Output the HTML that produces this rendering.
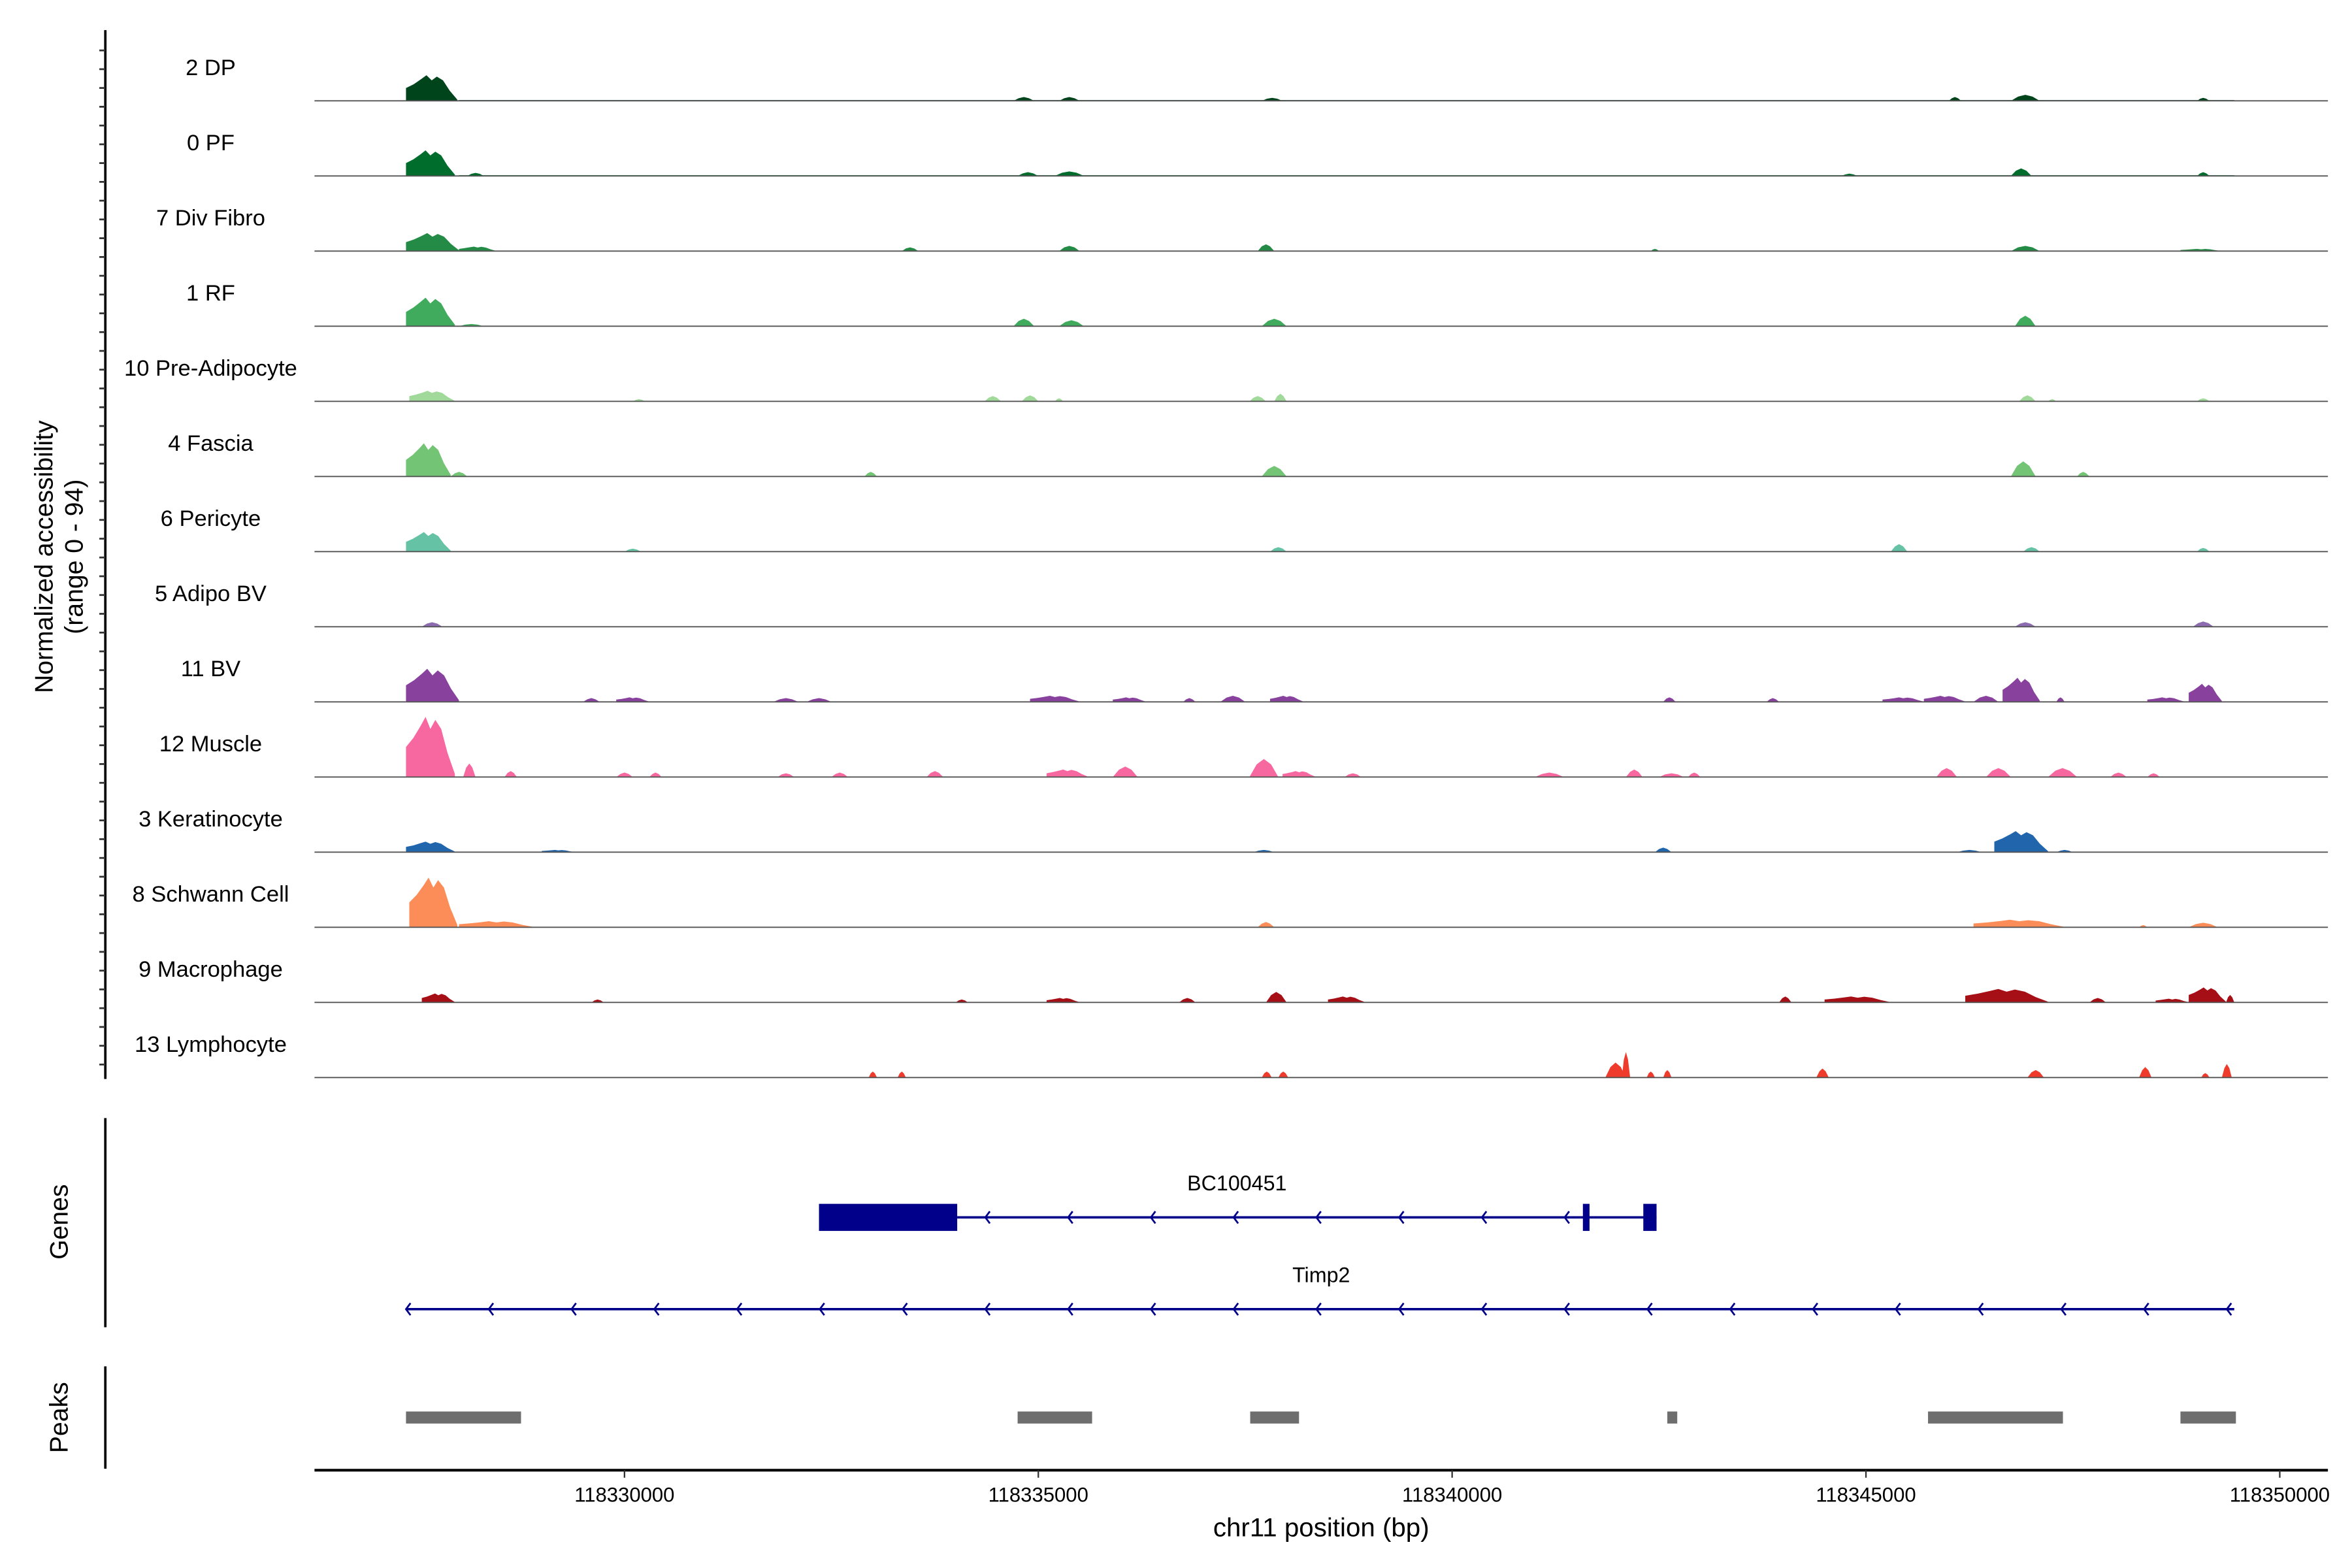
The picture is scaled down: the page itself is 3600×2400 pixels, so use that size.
<!DOCTYPE html>
<html><head><meta charset="utf-8"><style>
html,body{margin:0;padding:0;background:#fff}
svg{display:block}
text{font-family:"Liberation Sans",sans-serif;fill:#000}
</style></head><body>
<svg id="chart" width="3600" height="2400" viewBox="0 0 1563 1042" xmlns="http://www.w3.org/2000/svg">
<g id="tracks"></g>
<g id="genes"></g>
<g id="peaks"></g>
<g id="axes"></g>
</svg>
<script>
// positions in kb offset from 118320000 bp
const BASE_KB = 118320;
const trackNames = ["2 DP","0 PF","7 Div Fibro","1 RF","10 Pre-Adipocyte","4 Fascia","6 Pericyte","5 Adipo BV","11 BV","12 Muscle","3 Keratinocyte","8 Schwann Cell","9 Macrophage","13 Lymphocyte"];
const trackColors = ["#00441b","#006d2c","#238b45","#41ab5d","#a1d99b","#74c476","#66c2a4","#8c6bb1","#88419d","#f768a1","#2166ac","#fc8d59","#a50f15","#ef3b2c"];
const trackBackground = [1,1,0.6,0.6,0,0.6,0.6,0.4,0,0,0.6,0.6,0,0];
// peaks: [startKb, endKb, value (0-94)]
const peaksDP = [[7.36,7.98,34],[14.7,14.95,5],[15.25,15.5,5],[17.7,17.95,4],[26.0,26.15,5],[26.75,27.1,8],[29.0,29.15,4]];
const peaksPF = [[7.36,7.95,34],[8.1,8.3,4],[14.75,15.0,5],[15.2,15.55,6],[24.7,24.9,3],[26.75,27.0,10],[29.0,29.15,5]];
const peaksDivFibro = [[7.36,8.0,24],[8.0,8.45,6],[13.35,13.55,5],[15.25,15.5,7],[17.65,17.85,9],[22.4,22.5,3],[26.75,27.1,7],[28.8,29.3,3]];
const peaksRF = [[7.36,7.95,38],[8.0,8.3,3],[14.7,14.95,10],[15.25,15.55,8],[17.7,18.0,10],[26.8,27.05,14]];
const peaksPreAdip = [[7.4,7.95,14],[10.1,10.25,3],[14.35,14.55,7],[14.8,15.0,8],[15.2,15.3,4],[17.55,17.75,7],[17.85,18.0,10],[26.85,27.05,8],[27.2,27.3,3],[29.0,29.15,4]];
const peaksFascia = [[7.36,7.9,44],[7.9,8.1,6],[12.9,13.05,6],[17.7,18.0,14],[26.75,27.05,20],[27.55,27.7,6]];
const peaksPericyte = [[7.36,7.9,26],[10.0,10.2,4],[17.8,18.0,6],[25.3,25.5,10],[26.9,27.1,6],[29.0,29.15,5]];
const peaksAdipoBV = [[7.55,7.8,6],[26.8,27.05,6],[28.95,29.2,7]];
const peaksBV = [[7.36,8.0,44],[9.5,9.7,5],[9.9,10.3,6],[11.8,12.1,5],[12.2,12.5,5],[14.9,15.5,8],[15.9,16.3,6],[16.75,16.9,5],[17.2,17.5,8],[17.8,18.2,8],[22.55,22.7,6],[23.8,23.95,5],[25.2,25.7,6],[25.7,26.2,8],[26.3,26.6,8],[26.65,27.1,32],[27.3,27.4,6],[28.4,28.85,6],[28.9,29.3,24]];
const peaksMuscle = [[7.36,7.95,80],[8.05,8.2,18],[8.55,8.7,8],[9.9,10.1,6],[10.3,10.45,6],[11.85,12.05,5],[12.5,12.7,6],[13.65,13.85,8],[15.1,15.6,10],[15.9,16.2,14],[17.55,17.9,24],[17.95,18.35,8],[18.7,18.9,5],[21.0,21.35,6],[22.1,22.3,10],[22.5,22.8,5],[22.85,23.0,6],[25.85,26.1,12],[26.45,26.75,12],[27.2,27.55,12],[27.95,28.15,6],[28.4,28.55,5]];
const peaksKera = [[7.36,7.95,14],[9.0,9.4,3],[17.6,17.85,3],[22.45,22.65,6],[26.1,26.4,3],[26.55,27.2,28],[27.3,27.5,3]];
const peaksSchwann = [[7.4,7.98,66],[8.0,8.9,8],[17.65,17.85,7],[26.3,27.4,10],[28.3,28.4,3],[28.9,29.25,6]];
const peaksMacro = [[7.55,7.95,12],[9.6,9.75,4],[14.0,14.15,4],[15.1,15.5,6],[16.7,16.9,6],[17.75,18.0,14],[18.5,18.95,8],[23.95,24.1,8],[24.5,25.3,8],[26.2,27.2,18],[27.7,27.9,6],[28.5,28.9,5],[28.9,29.35,20],[29.35,29.45,10]];
const peaksLympho = [[12.95,13.05,8],[13.3,13.4,8],[17.7,17.82,8],[17.9,18.02,8],[21.85,22.1,20],[22.05,22.15,34],[22.35,22.45,8],[22.55,22.65,10],[24.4,24.55,12],[26.95,27.15,10],[28.3,28.45,14],[29.05,29.15,6],[29.3,29.42,18]];
const allPeaks = [peaksDP,peaksPF,peaksDivFibro,peaksRF,peaksPreAdip,peaksFascia,peaksPericyte,peaksAdipoBV,peaksBV,peaksMuscle,peaksKera,peaksSchwann,peaksMacro,peaksLympho];
const xTicks = [118330000,118335000,118340000,118345000,118350000];
// gene models (kb offsets)
const bcExons = [[12.35,14.02],[21.58,21.66],[22.31,22.47]];
const bcIntron = [14.02,22.47];
const timp2Span = [7.36,29.45];
const peakRegions = [[7.36,8.75],[14.75,15.65],[17.56,18.15],[22.6,22.72],[25.75,27.38],[28.8,29.47]];

const NS = "http://www.w3.org/2000/svg";
const X0 = 415, PXKB = 55;
function xs(kb){ return X0 + (kb - 10) * PXKB; }
function xbp(bp){ return xs(bp/1000 - BASE_KB); }
const firstBase = 67, step = 49.93, ymax = 94, hpx = 47;
function ys(v, base){ return base - v / ymax * hpx; }
function mk(tag, attrs, parent){ const e=document.createElementNS(NS,tag); for(const k in attrs) e.setAttribute(k,attrs[k]); parent.appendChild(e); return e; }

const gT = document.getElementById('tracks');
trackNames.forEach((name,i)=>{
  const base = firstBase + i*step;
  const g = mk('g',{},gT);
  
  
  const lab = mk('text',{x:140,y:base-17,'text-anchor':'middle','font-size':15},g);
  lab.textContent = name;
  
  
  const col = trackColors[i];
  if (trackBackground[i] > 0) {
    const bg = mk('rect',{x:xs(8.0),y:ys(trackBackground[i],base),width:xs(29.45)-xs(8.0),height:base-ys(trackBackground[i],base),fill:col},g);
    
    
  }
  allPeaks[i].forEach(p=>{
    const s=xs(p[0]), e=xs(p[1]), w=e-s, h=base-ys(p[2],base);
    let pts;
    if (w > 20) {
      pts = [[s,base],[s,base-0.5*h],[s+0.15*w,base-0.65*h],[s+0.3*w,base-0.85*h],[s+0.4*w,base-h],[s+0.5*w,base-0.8*h],[s+0.6*w,base-0.95*h],[s+0.72*w,base-0.8*h],[s+0.85*w,base-0.4*h],[e,base-0.05*h],[e,base]];
    } else {
      pts = [[s,base],[s+0.25*w,base-0.7*h],[s+0.5*w,base-h],[s+0.75*w,base-0.7*h],[e,base]];
    }
    const pg = mk('polygon',{points:pts.map(q=>q[0].toFixed(1)+','+q[1].toFixed(1)).join(' '),fill:col},g);
    
    
  });
  const bl = mk('line',{x1:209,x2:1547,y1:base,y2:base,stroke:'#555','stroke-width':0.8},g);
  
  
});

const gA = document.getElementById('axes');
const yAx = mk('line',{x1:70,x2:70,y1:20,y2:717,stroke:'#000','stroke-width':1.6},gA);


for (let y=33.5; y<717; y+=12.48) {
  const t = mk('line',{x1:66,x2:70,y1:y,y2:y,stroke:'#333','stroke-width':1.2},gA);
  
  
}
const yt = mk('text',{transform:'translate(35,370) rotate(-90)','text-anchor':'middle','font-size':17},gA);


yt.innerHTML = '<tspan x="0" dy="0">Normalized accessibility</tspan><tspan x="0" dy="20">(range 0 - 94)</tspan>';

const gAx = mk('line',{x1:70,x2:70,y1:743,y2:882,stroke:'#000','stroke-width':1.6},gA);


const gl = mk('text',{transform:'translate(45,812) rotate(-90)','text-anchor':'middle','font-size':17},gA);
gl.textContent='Genes';


const pAx = mk('line',{x1:70,x2:70,y1:908,y2:976,stroke:'#000','stroke-width':1.6},gA);


const pl = mk('text',{transform:'translate(45,942) rotate(-90)','text-anchor':'middle','font-size':17},gA);
pl.textContent='Peaks';



const xl = mk('line',{x1:209,x2:1547,y1:977,y2:977,stroke:'#000','stroke-width':1.8},gA);


xTicks.forEach(v=>{
  const x = xbp(v);
  const t = mk('line',{x1:x,x2:x,y1:977,y2:982,stroke:'#333','stroke-width':1},gA);
  
  
  const tl = mk('text',{x:x,y:998,'text-anchor':'middle','font-size':13.5,fill:'#4d4d4d'},gA);
  tl.textContent = String(v);
  
  
});
const xt = mk('text',{x:878,y:1021,'text-anchor':'middle','font-size':17.5},gA);
xt.textContent='chr11 position (bp)';



// genes
const gG = document.getElementById('genes');
const C = '#00008b';
function arrows(g, a, b, y){
  for (let kb = a; kb <= b + 0.01; kb += 1.0) {
    const x = xs(kb);
    const ar = mk('polyline',{points:`${x+3},${y-4} ${x},${y} ${x+3},${y+4}`,fill:'none',stroke:C,'stroke-width':1.2},g);
    
    
  }
}
const bc = mk('g',{},gG);


const bcl = mk('line',{x1:xs(bcIntron[0]),x2:xs(bcIntron[1]),y1:809,y2:809,stroke:C,'stroke-width':1.6},bc);


arrows(bc, 14.36, 21.4, 809);
bcExons.forEach(e=>{
  const r = mk('rect',{x:xs(e[0]),y:800,width:xs(e[1])-xs(e[0]),height:18,fill:C},bc);
  
  
});
const bct = mk('text',{x:822,y:791,'text-anchor':'middle','font-size':14},bc);
bct.textContent='BC100451';



const tp = mk('g',{},gG);


const tpl = mk('line',{x1:xs(timp2Span[0]),x2:xs(timp2Span[1]),y1:870,y2:870,stroke:C,'stroke-width':1.6},tp);


arrows(tp, 7.36, 29.45, 870);
const tpt = mk('text',{x:878,y:852,'text-anchor':'middle','font-size':14},tp);
tpt.textContent='Timp2';



// peaks
const gP = document.getElementById('peaks');
peakRegions.forEach(p=>{
  const r = mk('rect',{x:xs(p[0]),y:938,width:Math.max(xs(p[1])-xs(p[0]),5),height:8,fill:'#6e6e6e'},gP);
  
  
});
</script>
</body></html>
